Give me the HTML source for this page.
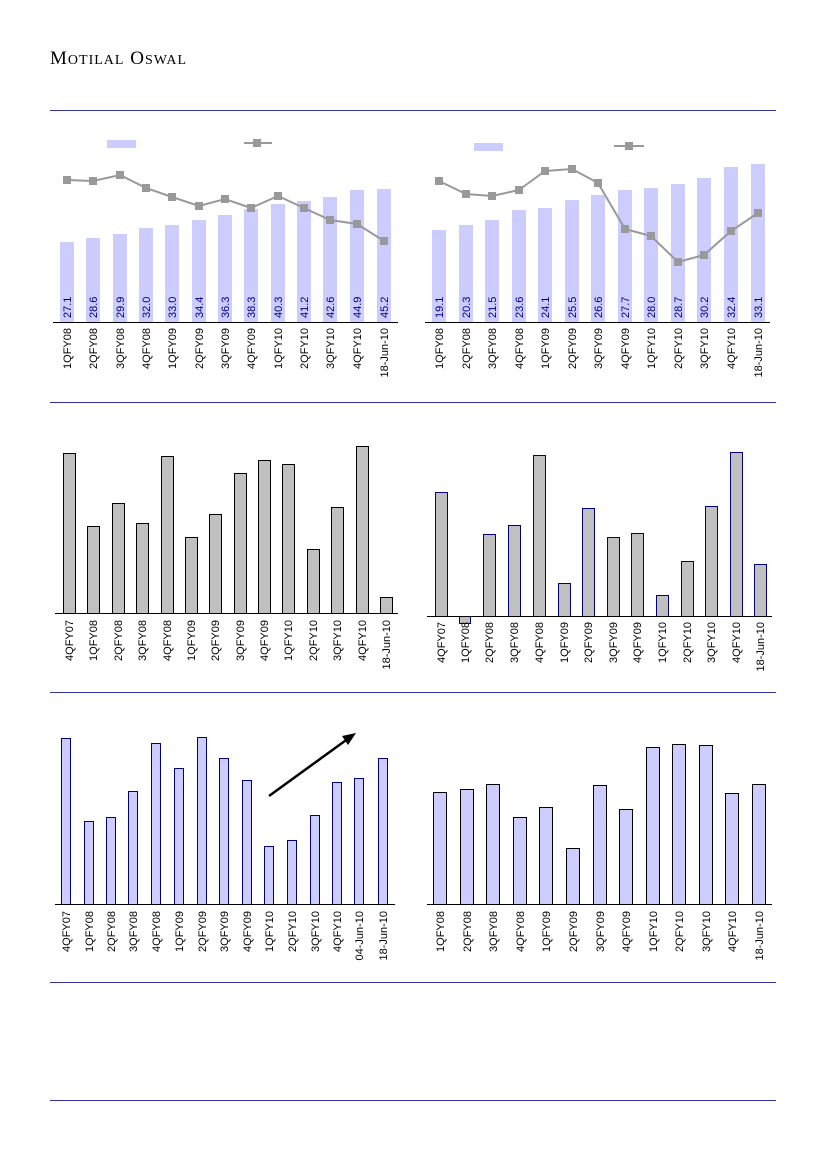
<!DOCTYPE html>
<html><head><meta charset="utf-8"><style>
html,body{margin:0;padding:0;background:#fff}
svg{display:block}
text{font-family:"Liberation Sans",Arial,sans-serif;font-size:11px;fill:#000}
.v{fill:#000080}
</style></head><body>
<svg width="826" height="1169" viewBox="0 0 826 1169" xmlns="http://www.w3.org/2000/svg">
<text x="50" y="64" style="font-family:'Liberation Serif',serif;font-size:19px;letter-spacing:1px">M<tspan style="font-size:14px">OTILAL</tspan> O<tspan style="font-size:14px">SWAL</tspan></text>
<g stroke="#333399" stroke-width="1">
<line x1="50" y1="110.5" x2="776" y2="110.5"/><line x1="50" y1="402.5" x2="776" y2="402.5"/>
<line x1="50" y1="692.5" x2="776" y2="692.5"/><line x1="50" y1="982.5" x2="776" y2="982.5"/>
<line x1="50" y1="1100.5" x2="776" y2="1100.5"/></g>

<!-- Chart 1 -->
<rect x="107" y="140" width="29" height="8" fill="#ccccff"/>
<line x1="244" y1="143" x2="272" y2="143" stroke="#999" stroke-width="2"/><rect x="253" y="139" width="8" height="8" fill="#999"/>
<g fill="#ccccff">
<rect x="60" y="242" width="14" height="80"/><rect x="86" y="238" width="14" height="84"/><rect x="113" y="234" width="14" height="88"/>
<rect x="139" y="228" width="14" height="94"/><rect x="165" y="225" width="14" height="97"/><rect x="192" y="220" width="14" height="102"/>
<rect x="218" y="215" width="14" height="107"/><rect x="244" y="209" width="14" height="113"/><rect x="271" y="204" width="14" height="118"/>
<rect x="297" y="201" width="14" height="121"/><rect x="323" y="197" width="14" height="125"/><rect x="350" y="190" width="14" height="132"/>
<rect x="377" y="189" width="14" height="133"/></g>
<polyline points="67,180 93,181 120,175 146,188 172,197 199,206 225,199 251,208 278,196 304,208 330,220 357,224 384,241" fill="none" stroke="#999" stroke-width="2"/>
<g fill="#999"><rect x="63" y="176" width="8" height="8"/><rect x="89" y="177" width="8" height="8"/><rect x="116" y="171" width="8" height="8"/><rect x="142" y="184" width="8" height="8"/><rect x="168" y="193" width="8" height="8"/><rect x="195" y="202" width="8" height="8"/><rect x="221" y="195" width="8" height="8"/><rect x="247" y="204" width="8" height="8"/><rect x="274" y="192" width="8" height="8"/><rect x="300" y="204" width="8" height="8"/><rect x="326" y="216" width="8" height="8"/><rect x="353" y="220" width="8" height="8"/><rect x="380" y="237" width="8" height="8"/></g>
<line x1="53" y1="322.5" x2="398" y2="322.5" stroke="#000"/>
<g>
<text class="v" transform="translate(71,318) rotate(-90)">27.1</text><text class="v" transform="translate(97,318) rotate(-90)">28.6</text><text class="v" transform="translate(124,318) rotate(-90)">29.9</text><text class="v" transform="translate(150,318) rotate(-90)">32.0</text><text class="v" transform="translate(176,318) rotate(-90)">33.0</text><text class="v" transform="translate(203,318) rotate(-90)">34.4</text><text class="v" transform="translate(229,318) rotate(-90)">36.3</text><text class="v" transform="translate(255,318) rotate(-90)">38.3</text><text class="v" transform="translate(282,318) rotate(-90)">40.3</text><text class="v" transform="translate(308,318) rotate(-90)">41.2</text><text class="v" transform="translate(334,318) rotate(-90)">42.6</text><text class="v" transform="translate(361,318) rotate(-90)">44.9</text><text class="v" transform="translate(388,318) rotate(-90)">45.2</text></g>
<g text-anchor="end">
<text transform="translate(71,328) rotate(-90)">1QFY08</text><text transform="translate(97,328) rotate(-90)">2QFY08</text><text transform="translate(124,328) rotate(-90)">3QFY08</text><text transform="translate(150,328) rotate(-90)">4QFY08</text><text transform="translate(176,328) rotate(-90)">1QFY09</text><text transform="translate(203,328) rotate(-90)">2QFY09</text><text transform="translate(229,328) rotate(-90)">3QFY09</text><text transform="translate(255,328) rotate(-90)">4QFY09</text><text transform="translate(282,328) rotate(-90)">1QFY10</text><text transform="translate(308,328) rotate(-90)">2QFY10</text><text transform="translate(334,328) rotate(-90)">3QFY10</text><text transform="translate(361,328) rotate(-90)">4QFY10</text><text transform="translate(388,328) rotate(-90)">18-Jun-10</text></g>

<!-- Chart 2 -->
<rect x="474" y="143" width="29" height="8" fill="#ccccff"/>
<line x1="614" y1="146" x2="644" y2="146" stroke="#999" stroke-width="2"/><rect x="625" y="142" width="8" height="8" fill="#999"/>
<g fill="#ccccff">
<rect x="432" y="230" width="14" height="92"/><rect x="459" y="225" width="14" height="97"/><rect x="485" y="220" width="14" height="102"/>
<rect x="512" y="210" width="14" height="112"/><rect x="538" y="208" width="14" height="114"/><rect x="565" y="200" width="14" height="122"/>
<rect x="591" y="195" width="14" height="127"/><rect x="618" y="190" width="14" height="132"/><rect x="644" y="188" width="14" height="134"/>
<rect x="671" y="184" width="14" height="138"/><rect x="697" y="178" width="14" height="144"/><rect x="724" y="167" width="14" height="155"/>
<rect x="751" y="164" width="14" height="158"/></g>
<polyline points="439,181 466,194 492,196 519,190 545,171 572,169 598,183 625,229 651,236 678,262 704,255 731,231 758,213" fill="none" stroke="#999" stroke-width="2"/>
<g fill="#999"><rect x="435" y="177" width="8" height="8"/><rect x="462" y="190" width="8" height="8"/><rect x="488" y="192" width="8" height="8"/><rect x="515" y="186" width="8" height="8"/><rect x="541" y="167" width="8" height="8"/><rect x="568" y="165" width="8" height="8"/><rect x="594" y="179" width="8" height="8"/><rect x="621" y="225" width="8" height="8"/><rect x="647" y="232" width="8" height="8"/><rect x="674" y="258" width="8" height="8"/><rect x="700" y="251" width="8" height="8"/><rect x="727" y="227" width="8" height="8"/><rect x="754" y="209" width="8" height="8"/></g>
<line x1="425" y1="322.5" x2="770" y2="322.5" stroke="#000"/>
<g>
<text class="v" transform="translate(443,318) rotate(-90)">19.1</text><text class="v" transform="translate(470,318) rotate(-90)">20.3</text><text class="v" transform="translate(496,318) rotate(-90)">21.5</text><text class="v" transform="translate(523,318) rotate(-90)">23.6</text><text class="v" transform="translate(549,318) rotate(-90)">24.1</text><text class="v" transform="translate(576,318) rotate(-90)">25.5</text><text class="v" transform="translate(602,318) rotate(-90)">26.6</text><text class="v" transform="translate(629,318) rotate(-90)">27.7</text><text class="v" transform="translate(655,318) rotate(-90)">28.0</text><text class="v" transform="translate(682,318) rotate(-90)">28.7</text><text class="v" transform="translate(708,318) rotate(-90)">30.2</text><text class="v" transform="translate(735,318) rotate(-90)">32.4</text><text class="v" transform="translate(762,318) rotate(-90)">33.1</text></g>
<g text-anchor="end">
<text transform="translate(443,328) rotate(-90)">1QFY08</text><text transform="translate(470,328) rotate(-90)">2QFY08</text><text transform="translate(496,328) rotate(-90)">3QFY08</text><text transform="translate(523,328) rotate(-90)">4QFY08</text><text transform="translate(549,328) rotate(-90)">1QFY09</text><text transform="translate(576,328) rotate(-90)">2QFY09</text><text transform="translate(602,328) rotate(-90)">3QFY09</text><text transform="translate(629,328) rotate(-90)">4QFY09</text><text transform="translate(655,328) rotate(-90)">1QFY10</text><text transform="translate(682,328) rotate(-90)">2QFY10</text><text transform="translate(708,328) rotate(-90)">3QFY10</text><text transform="translate(735,328) rotate(-90)">4QFY10</text><text transform="translate(762,328) rotate(-90)">18-Jun-10</text></g>

<!-- Chart 3 -->
<g fill="#c0c0c0" stroke="#000" stroke-width="1">
<rect x="63.5" y="453.5" width="12" height="160"/><rect x="87.5" y="526.5" width="12" height="87"/><rect x="112.5" y="503.5" width="12" height="110"/>
<rect x="136.5" y="523.5" width="12" height="90"/><rect x="161.5" y="456.5" width="12" height="157"/><rect x="185.5" y="537.5" width="12" height="76"/>
<rect x="209.5" y="514.5" width="12" height="99"/><rect x="234.5" y="473.5" width="12" height="140"/><rect x="258.5" y="460.5" width="12" height="153"/>
<rect x="282.5" y="464.5" width="12" height="149"/><rect x="307.5" y="549.5" width="12" height="64"/><rect x="331.5" y="507.5" width="12" height="106"/>
<rect x="356.5" y="446.5" width="12" height="167"/><rect x="380.5" y="597.5" width="12" height="16"/></g>
<line x1="55" y1="613.5" x2="398" y2="613.5" stroke="#000"/>
<g text-anchor="end">
<text transform="translate(73,620) rotate(-90)">4QFY07</text><text transform="translate(97,620) rotate(-90)">1QFY08</text><text transform="translate(122,620) rotate(-90)">2QFY08</text><text transform="translate(146,620) rotate(-90)">3QFY08</text><text transform="translate(171,620) rotate(-90)">4QFY08</text><text transform="translate(195,620) rotate(-90)">1QFY09</text><text transform="translate(219,620) rotate(-90)">2QFY09</text><text transform="translate(244,620) rotate(-90)">3QFY09</text><text transform="translate(268,620) rotate(-90)">4QFY09</text><text transform="translate(292,620) rotate(-90)">1QFY10</text><text transform="translate(317,620) rotate(-90)">2QFY10</text><text transform="translate(341,620) rotate(-90)">3QFY10</text><text transform="translate(366,620) rotate(-90)">4QFY10</text><text transform="translate(390,620) rotate(-90)">18-Jun-10</text></g>

<!-- Chart 4 -->
<g fill="#c0c0c0" stroke="#000080" stroke-width="1">
<rect x="435.5" y="492.5" width="12" height="124"/><rect x="459.5" y="616.5" width="11" height="7"/><rect x="483.5" y="534.5" width="12" height="82"/>
<rect x="508.5" y="525.5" width="12" height="91"/><rect x="533.5" y="455.5" width="12" height="161"/><rect x="558.5" y="583.5" width="12" height="33"/>
<rect x="582.5" y="508.5" width="12" height="108"/><rect x="607.5" y="537.5" width="12" height="79"/><rect x="631.5" y="533.5" width="12" height="83"/>
<rect x="656.5" y="595.5" width="12" height="21"/><rect x="681.5" y="561.5" width="12" height="55"/><rect x="705.5" y="506.5" width="12" height="110"/>
<rect x="730.5" y="452.5" width="12" height="164"/><rect x="754.5" y="564.5" width="12" height="52"/></g>
<line x1="427" y1="616.5" x2="772" y2="616.5" stroke="#000"/>
<g text-anchor="end">
<text transform="translate(445,622) rotate(-90)">4QFY07</text><text transform="translate(469,622) rotate(-90)">1QFY08</text><text transform="translate(493,622) rotate(-90)">2QFY08</text><text transform="translate(518,622) rotate(-90)">3QFY08</text><text transform="translate(543,622) rotate(-90)">4QFY08</text><text transform="translate(568,622) rotate(-90)">1QFY09</text><text transform="translate(592,622) rotate(-90)">2QFY09</text><text transform="translate(617,622) rotate(-90)">3QFY09</text><text transform="translate(641,622) rotate(-90)">4QFY09</text><text transform="translate(666,622) rotate(-90)">1QFY10</text><text transform="translate(691,622) rotate(-90)">2QFY10</text><text transform="translate(715,622) rotate(-90)">3QFY10</text><text transform="translate(740,622) rotate(-90)">4QFY10</text><text transform="translate(764,622) rotate(-90)">18-Jun-10</text></g>

<!-- Chart 5 -->
<g fill="#ccccff" stroke="#000080" stroke-width="1">
<rect x="61.5" y="738.5" width="9" height="166"/><rect x="84.5" y="821.5" width="9" height="83"/><rect x="106.5" y="817.5" width="9" height="87"/>
<rect x="128.5" y="791.5" width="9" height="113"/><rect x="151.5" y="743.5" width="9" height="161"/><rect x="174.5" y="768.5" width="9" height="136"/>
<rect x="197.5" y="737.5" width="9" height="167"/><rect x="219.5" y="758.5" width="9" height="146"/><rect x="242.5" y="780.5" width="9" height="124"/>
<rect x="264.5" y="846.5" width="9" height="58"/><rect x="287.5" y="840.5" width="9" height="64"/><rect x="310.5" y="815.5" width="9" height="89"/>
<rect x="332.5" y="782.5" width="9" height="122"/><rect x="354.5" y="778.5" width="9" height="126"/><rect x="378.5" y="758.5" width="9" height="146"/></g>
<line x1="55" y1="904.5" x2="395" y2="904.5" stroke="#000"/>
<line x1="269" y1="796" x2="349" y2="738" stroke="#000" stroke-width="2.5"/>
<polygon points="356,733 342,736 348,745" fill="#000"/>
<g text-anchor="end">
<text transform="translate(70,911) rotate(-90)">4QFY07</text><text transform="translate(93,911) rotate(-90)">1QFY08</text><text transform="translate(115,911) rotate(-90)">2QFY08</text><text transform="translate(137,911) rotate(-90)">3QFY08</text><text transform="translate(160,911) rotate(-90)">4QFY08</text><text transform="translate(183,911) rotate(-90)">1QFY09</text><text transform="translate(206,911) rotate(-90)">2QFY09</text><text transform="translate(228,911) rotate(-90)">3QFY09</text><text transform="translate(251,911) rotate(-90)">4QFY09</text><text transform="translate(273,911) rotate(-90)">1QFY10</text><text transform="translate(296,911) rotate(-90)">2QFY10</text><text transform="translate(319,911) rotate(-90)">3QFY10</text><text transform="translate(341,911) rotate(-90)">4QFY10</text><text transform="translate(363,911) rotate(-90)">04-Jun-10</text><text transform="translate(387,911) rotate(-90)">18-Jun-10</text></g>

<!-- Chart 6 -->
<g fill="#ccccff" stroke="#000" stroke-width="1">
<rect x="433.5" y="792.5" width="13" height="112"/><rect x="460.5" y="789.5" width="13" height="115"/><rect x="486.5" y="784.5" width="13" height="120"/>
<rect x="513.5" y="817.5" width="13" height="87"/><rect x="539.5" y="807.5" width="13" height="97"/><rect x="566.5" y="848.5" width="13" height="56"/>
<rect x="593.5" y="785.5" width="13" height="119"/><rect x="619.5" y="809.5" width="13" height="95"/><rect x="646.5" y="747.5" width="13" height="157"/>
<rect x="672.5" y="744.5" width="13" height="160"/><rect x="699.5" y="745.5" width="13" height="159"/><rect x="725.5" y="793.5" width="13" height="111"/>
<rect x="752.5" y="784.5" width="13" height="120"/></g>
<line x1="427" y1="904.5" x2="772" y2="904.5" stroke="#000"/>
<g text-anchor="end">
<text transform="translate(444,911) rotate(-90)">1QFY08</text><text transform="translate(471,911) rotate(-90)">2QFY08</text><text transform="translate(497,911) rotate(-90)">3QFY08</text><text transform="translate(524,911) rotate(-90)">4QFY08</text><text transform="translate(550,911) rotate(-90)">1QFY09</text><text transform="translate(577,911) rotate(-90)">2QFY09</text><text transform="translate(604,911) rotate(-90)">3QFY09</text><text transform="translate(630,911) rotate(-90)">4QFY09</text><text transform="translate(657,911) rotate(-90)">1QFY10</text><text transform="translate(683,911) rotate(-90)">2QFY10</text><text transform="translate(710,911) rotate(-90)">3QFY10</text><text transform="translate(736,911) rotate(-90)">4QFY10</text><text transform="translate(763,911) rotate(-90)">18-Jun-10</text></g>
</svg>
</body></html>
